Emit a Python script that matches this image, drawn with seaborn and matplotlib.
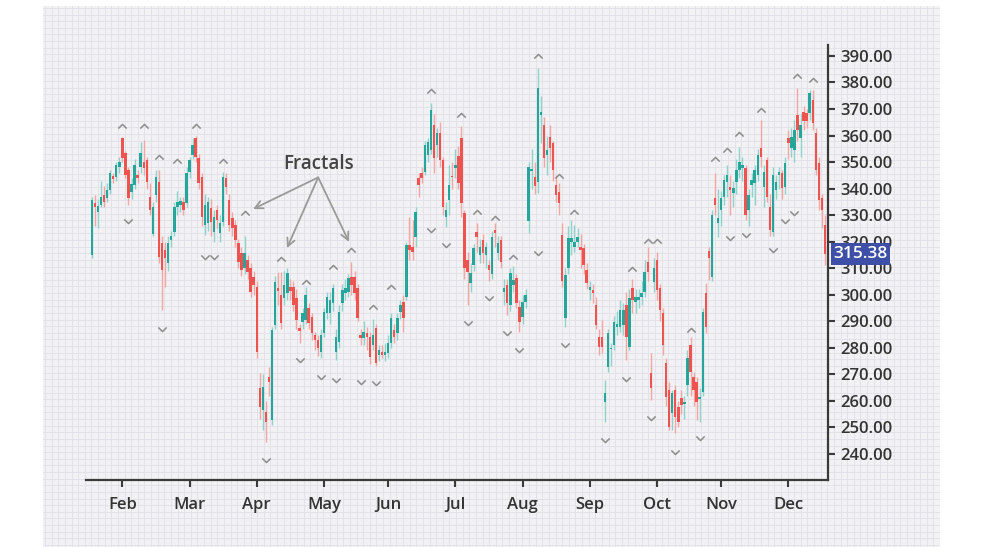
import numpy as np
import pandas as pd
import matplotlib
matplotlib.use("Agg")
import matplotlib.pyplot as plt
from matplotlib.path import Path
import seaborn as sns

# daily candles (one row per trading day)
opens = [315.0, 334.5, 331.0, 334.0, 337.6, 336.5, 339.5, 344.8, 344.4, 348.0,
         359.0, 353.4, 347.0, 338.7, 341.4, 345.0, 348.0, 350.0, 350.8, 337.0,
         323.0, 337.6, 342.5, 319.5, 317.0, 312.0, 320.5, 323.7, 333.0, 334.0,
         335.0, 334.6, 346.3, 352.7, 359.0, 351.6, 344.4, 326.3, 327.0, 332.7,
         323.7, 332.0, 323.3, 327.4, 344.0, 335.7, 329.0, 326.3, 319.5, 315.7,
         310.0, 313.0, 310.0, 306.7, 303.0, 264.9, 256.6, 255.8, 269.0, 252.8,
         288.6, 302.5, 300.0, 298.8, 300.7, 303.0, 303.0, 298.8, 287.5, 289.7,
         290.5, 295.0, 291.6, 284.8, 283.0, 278.4, 285.6, 293.1, 293.0, 296.8,
         278.6, 282.3, 296.8, 300.5, 301.2, 306.8, 306.8, 302.4, 284.8, 283.6,
         285.4, 284.2, 281.0, 287.3, 277.3, 278.6, 277.3, 277.9, 281.7, 286.7,
         285.4, 293.6, 297.4, 299.3, 318.8, 318.1, 321.9, 343.9, 345.8, 346.4,
         352.7, 354.6, 364.0, 356.4, 360.8, 350.8, 329.4, 335.7, 344.8, 347.7,
         352.1, 359.0, 330.7, 313.1, 304.3, 311.2, 323.8, 315.0, 320.6, 315.0,
         311.2, 308.0, 324.4, 315.6, 320.6, 301.2, 303.7, 296.1, 303.7, 306.2,
         295.5, 291.8, 297.4, 327.6, 346.6, 344.5, 342.6, 367.8, 364.0, 352.7,
         359.6, 357.1, 341.4, 338.9, 322.5, 291.1, 310.0, 320.0, 318.0, 320.0,
         318.1, 317.5, 309.3, 301.8, 301.8, 296.1, 284.2, 284.2, 259.7, 272.9,
         279.4, 281.1, 288.0, 288.0, 288.6, 296.1, 280.4, 302.4, 297.4, 298.0,
         299.3, 301.2, 312.5, 270.4, 304.9, 313.1, 302.4, 293.0, 274.2, 264.1,
         255.3, 264.1, 257.8, 261.0, 258.8, 266.0, 281.0, 269.1, 267.2, 260.6,
         263.5, 300.5, 316.3, 306.8, 336.3, 326.9, 332.0, 337.0, 342.6, 340.7,
         338.2, 342.6, 347.0, 347.7, 347.7, 332.0, 341.4, 342.0, 345.2, 355.2,
         340.7, 350.8, 333.2, 323.8, 339.5, 345.2, 345.8, 340.7, 359.0, 355.2,
         354.6, 367.8, 359.0, 369.0, 368.4, 368.4, 373.4, 360.9, 349.5, 336.3,
         326.3]
highs = [337.0, 337.5, 336.0, 343.0, 341.0, 342.0, 347.0, 346.0, 350.0, 352.0,
         359.5, 354.0, 348.0, 344.0, 351.0, 347.0, 357.6, 358.3, 352.0, 342.0,
         335.0, 347.0, 347.0, 322.0, 320.0, 322.0, 324.0, 335.0, 339.0, 337.0,
         337.0, 348.0, 352.0, 359.0, 360.0, 353.0, 346.0, 338.0, 337.0, 336.0,
         332.0, 334.0, 330.0, 346.3, 346.0, 338.0, 331.0, 328.0, 321.0, 318.0,
         322.0, 315.0, 312.0, 309.0, 305.0, 270.5, 270.0, 260.0, 272.8, 288.0,
         307.0, 308.6, 308.6, 309.0, 310.0, 306.0, 305.0, 302.0, 289.0, 295.0,
         303.0, 297.0, 293.0, 286.0, 285.0, 287.0, 295.0, 301.0, 301.0, 304.0,
         287.0, 296.0, 304.0, 306.0, 308.0, 312.5, 309.0, 304.0, 287.0, 290.0,
         288.0, 286.0, 291.0, 289.0, 281.0, 281.0, 282.0, 285.0, 293.0, 289.0,
         293.0, 298.0, 300.0, 320.0, 329.4, 328.0, 333.0, 346.0, 348.0, 358.0,
         359.0, 372.2, 368.0, 363.0, 365.0, 352.0, 335.0, 349.0, 350.0, 355.0,
         356.0, 363.4, 332.0, 316.0, 312.0, 319.0, 326.9, 321.0, 323.0, 320.0,
         313.0, 324.0, 327.0, 322.0, 322.0, 306.0, 306.0, 310.0, 311.0, 308.0,
         298.0, 300.0, 302.0, 350.0, 355.0, 350.0, 385.4, 375.0, 367.0, 360.0,
         364.0, 358.0, 345.0, 342.0, 327.0, 310.0, 326.0, 328.0, 326.3, 325.0,
         323.0, 319.0, 312.0, 305.0, 304.0, 299.0, 287.0, 290.5, 267.9, 287.0,
         282.0, 292.0, 294.0, 298.0, 297.0, 301.0, 302.0, 306.0, 302.0, 302.0,
         305.0, 313.1, 318.0, 277.9, 314.0, 316.2, 304.0, 295.0, 276.0, 267.2,
         264.0, 266.0, 260.0, 264.0, 262.0, 279.0, 284.0, 271.0, 269.0, 265.0,
         295.0, 304.3, 318.0, 332.0, 345.8, 340.0, 339.0, 345.0, 349.0, 345.0,
         343.0, 351.0, 355.8, 352.0, 349.0, 340.0, 346.0, 349.0, 355.0, 365.9,
         349.0, 352.0, 338.0, 348.0, 345.0, 348.0, 347.0, 352.0, 362.0, 363.0,
         366.0, 377.8, 368.0, 371.0, 370.0, 377.0, 377.0, 363.0, 352.0, 338.0,
         330.0]
lows = [314.0, 326.0, 325.0, 333.0, 333.0, 335.0, 338.0, 342.0, 343.0, 346.0,
        350.0, 344.0, 334.0, 336.0, 340.0, 342.0, 346.0, 345.0, 340.0, 330.0,
        322.0, 335.0, 312.0, 294.3, 303.0, 309.0, 318.0, 322.0, 330.0, 331.0,
        330.0, 333.0, 344.0, 351.0, 350.0, 340.0, 326.0, 322.5, 324.0, 322.0,
        320.0, 325.0, 320.0, 326.0, 338.0, 324.0, 322.0, 318.0, 310.0, 307.0,
        308.0, 306.0, 299.0, 300.0, 276.0, 253.0, 249.0, 244.5, 262.0, 251.0,
        287.0, 296.0, 287.0, 296.0, 298.0, 298.0, 294.0, 287.0, 282.0, 287.0,
        289.0, 287.0, 283.0, 279.0, 277.0, 276.0, 284.0, 291.0, 289.0, 294.0,
        275.4, 280.0, 294.0, 298.0, 299.0, 300.0, 298.0, 290.0, 281.0, 281.0,
        279.0, 274.0, 279.0, 273.0, 275.0, 276.0, 275.0, 276.0, 280.0, 282.0,
        283.0, 291.0, 286.0, 298.0, 313.0, 313.0, 318.0, 337.0, 342.0, 345.0,
        350.0, 353.0, 345.8, 352.0, 348.0, 330.0, 325.7, 330.0, 340.0, 344.0,
        340.0, 329.4, 306.0, 296.1, 301.0, 309.0, 316.0, 312.0, 312.0, 310.0,
        305.0, 306.0, 318.0, 313.0, 310.0, 296.0, 292.4, 294.0, 301.0, 295.0,
        286.1, 289.0, 295.0, 323.2, 340.0, 338.0, 338.2, 357.0, 348.0, 345.1,
        350.0, 343.0, 335.0, 330.0, 303.0, 288.0, 308.0, 315.0, 316.0, 318.0,
        310.0, 308.0, 302.0, 298.0, 297.0, 287.0, 277.3, 278.0, 252.2, 271.0,
        273.0, 279.0, 285.0, 286.0, 285.0, 275.4, 279.0, 293.0, 293.0, 295.0,
        296.0, 299.0, 305.0, 260.3, 301.0, 298.0, 290.0, 277.3, 258.0, 249.0,
        249.0, 247.8, 250.0, 255.0, 253.0, 262.0, 262.0, 258.0, 252.8, 252.0,
        262.0, 285.5, 305.6, 305.0, 330.0, 321.9, 326.0, 334.0, 337.0, 330.0,
        333.0, 338.0, 344.0, 343.0, 328.0, 326.0, 337.0, 334.0, 343.0, 348.0,
        333.0, 335.0, 322.0, 322.0, 336.0, 340.0, 336.0, 338.0, 351.0, 352.0,
        350.0, 358.0, 352.0, 362.0, 363.0, 366.0, 362.0, 345.0, 332.0, 325.0,
        311.2]
closes = [335.7, 333.0, 333.3, 337.0, 335.0, 339.5, 346.0, 343.6, 349.0, 350.0,
          351.6, 345.2, 336.5, 341.8, 349.0, 344.0, 353.4, 347.8, 342.5, 332.0,
          333.0, 344.4, 314.2, 309.3, 314.0, 319.5, 322.0, 333.0, 335.0, 335.5,
          332.0, 346.0, 350.8, 356.4, 352.0, 342.0, 329.3, 334.0, 335.0, 327.4,
          329.3, 328.2, 327.0, 344.4, 340.6, 326.3, 325.2, 320.6, 312.4, 309.3,
          315.7, 308.6, 301.0, 303.7, 278.4, 257.7, 265.3, 252.0, 267.0, 286.7,
          304.8, 301.5, 289.4, 303.7, 308.2, 301.5, 296.1, 290.5, 286.5, 293.0,
          300.0, 289.4, 285.6, 283.0, 280.0, 284.8, 293.5, 299.0, 298.0, 302.4,
          284.2, 293.6, 301.8, 302.4, 306.2, 303.7, 300.5, 291.1, 283.6, 286.0,
          284.2, 276.7, 284.8, 274.2, 279.2, 277.3, 278.6, 281.7, 291.1, 284.2,
          291.1, 296.1, 291.1, 318.8, 316.8, 316.2, 331.3, 341.4, 343.9, 356.4,
          357.7, 369.6, 351.4, 360.8, 350.8, 333.2, 332.0, 341.4, 344.2, 348.9,
          342.0, 334.5, 310.0, 308.7, 308.1, 317.5, 321.9, 318.1, 315.6, 318.1,
          309.3, 321.9, 323.2, 319.4, 312.5, 302.4, 296.8, 308.1, 305.6, 296.8,
          289.9, 297.4, 299.9, 348.3, 347.4, 340.8, 377.8, 369.0, 351.4, 354.6,
          355.2, 347.0, 337.6, 334.5, 305.0, 307.5, 321.5, 321.3, 320.0, 321.9,
          316.9, 311.2, 304.3, 302.8, 300.8, 288.6, 280.4, 280.4, 262.8, 285.5,
          280.0, 289.9, 289.0, 294.2, 294.2, 284.2, 298.6, 298.0, 299.0, 299.3,
          300.5, 308.7, 308.7, 264.7, 310.0, 301.8, 294.2, 281.1, 261.6, 250.3,
          262.8, 254.0, 252.2, 258.5, 259.7, 276.0, 271.0, 264.1, 259.7, 261.4,
          293.6, 288.0, 313.7, 330.1, 333.8, 328.8, 336.3, 343.3, 345.2, 339.5,
          340.1, 347.0, 350.2, 348.9, 330.1, 337.6, 343.3, 347.0, 352.7, 352.0,
          346.4, 337.0, 324.4, 345.2, 342.6, 346.4, 340.1, 349.5, 357.0, 359.6,
          362.1, 362.1, 364.0, 365.3, 365.3, 375.9, 364.6, 347.0, 335.7, 332.0,
          315.38]

# fractal markers (bar index, level)
frac_up_idx = [10, 17, 22, 28, 34, 43, 50, 62, 70, 79, 85, 92, 98, 111, 121, 126,
               132, 138, 146, 153, 158, 177, 182, 185, 196, 204, 208, 212, 219, 231, 236]
frac_up_val = [363.6, 363.6, 351.9, 350.4, 363.6, 350.4, 330.8, 313.4, 304.9, 310.6,
               316.9, 295.5, 303.0, 376.6, 367.8, 331.0, 329.0, 314.4, 389.8, 344.8,
               331.0, 309.7, 320.4, 320.4, 286.7, 351.0, 354.6, 360.6, 369.6, 382.5, 381.0]
frac_dn_idx = [12, 23, 37, 40, 57, 68, 75, 80, 88, 93, 111, 116, 123, 130, 136, 140,
               146, 155, 168, 175, 183, 191, 199, 209, 214, 223, 227, 230]
frac_dn_val = [327.8, 287.1, 314.1, 314.1, 237.7, 275.4, 269.1, 267.9, 267.2, 266.6,
               324.4, 318.6, 289.2, 298.6, 285.5, 279.2, 315.6, 281.0, 245.3, 268.3,
               253.4, 240.9, 245.9, 321.3, 322.5, 316.9, 327.8, 330.7]

month_pos = [10, 32, 54, 76, 97, 119, 141, 163, 185, 206, 228]
month_labels = ["Feb", "Mar", "Apr", "May", "Jun", "Jul", "Aug", "Sep", "Oct", "Nov", "Dec"]
price_ticks = [240, 250, 260, 270, 280, 290, 300, 310, 320, 330, 340, 350, 360, 370, 380, 390]

df = pd.DataFrame({"open": opens, "high": highs, "low": lows, "close": closes})
df["idx"] = np.arange(len(df))
df["up"] = df["close"] >= df["open"]

GREEN = "#26a69a"
RED = "#ef5350"

sns.set_theme(style="ticks")
plt.rcParams["font.family"] = ["Open Sans", "DejaVu Sans"]

fig = plt.figure(figsize=(9.84, 5.54), dpi=100)
fig.patch.set_facecolor("white")

# light grey panel with fine grid behind the chart
bg = fig.add_axes([43 / 984, 7 / 554, 897 / 984, 541 / 554])
bg.set_facecolor("#f2f2f5")
bg.set_xlim(0, 897)
bg.set_ylim(0, 541)
for gx in np.arange(2, 897, 6.63):
    bg.axvline(gx, color="#e2e2e8", lw=0.7, zorder=0)
for gy in np.arange(2, 541, 6.63):
    bg.axhline(gy, color="#e2e2e8", lw=0.7, zorder=0)
bg.set_xticks([])
bg.set_yticks([])
for s in bg.spines.values():
    s.set_visible(False)

ax = fig.add_axes([86 / 984, 74 / 554, 742 / 984, 435 / 554])
ax.set_facecolor("none")

# wicks
wick_cols = np.where(df["up"], "#8fd3ca", "#f5a5a3")
ax.vlines(df["idx"], df["low"], df["high"], colors=wick_cols, lw=1.0, zorder=2)

# bodies
body_lo = df[["open", "close"]].min(axis=1)
body_h = (df["close"] - df["open"]).abs().clip(lower=0.5)
body_cols = np.where(df["up"], GREEN, RED)
ax.bar(df["idx"], body_h, bottom=body_lo, width=0.8, color=body_cols, linewidth=0, zorder=3)

# fractal chevrons
chev_up = Path([(-1, -0.5), (0, 0.5), (1, -0.5)])
chev_dn = Path([(-1, 0.5), (0, -0.5), (1, 0.5)])
ax.plot(frac_up_idx, frac_up_val, ls="none", marker=chev_up, ms=6, mfc="none",
        mec="#8c8c8c", mew=1.1, zorder=4)
ax.plot(frac_dn_idx, frac_dn_val, ls="none", marker=chev_dn, ms=6, mfc="none",
        mec="#8c8c8c", mew=1.1, zorder=4)

# annotation
ax.text(74.1, 349.2, "Fractals", ha="center", va="center", fontsize=13.5,
        fontweight="semibold", color="#444444", zorder=5)
for tx, ty in [(52.8, 332.3), (63.9, 317.6), (84.2, 319.9)]:
    ax.annotate("", xy=(tx, ty), xytext=(74.1, 344.2),
                arrowprops=dict(arrowstyle="->", color="#9a9a9a", lw=1.3,
                                shrinkA=0, shrinkB=0, mutation_scale=14), zorder=5)

ax.set_xlim(-1.9, 241)
ax.set_ylim(230.2, 394.1)

ax.yaxis.tick_right()
ax.set_yticks(price_ticks)
ax.set_yticklabels([f"{v:.2f}" for v in price_ticks])
ax.set_xticks(month_pos)
ax.set_xticklabels(month_labels)
ax.tick_params(axis="both", direction="out", length=5, width=1.5, color="#3a3a3a",
               labelsize=12, labelcolor="#333333")
ax.tick_params(axis="x", pad=7)
ax.tick_params(axis="y", pad=4)
for lbl in ax.get_xticklabels() + ax.get_yticklabels():
    lbl.set_fontweight("semibold")

for side in ["left", "top"]:
    ax.spines[side].set_visible(False)
for side in ["bottom", "right"]:
    ax.spines[side].set_color("#3a3a3a")
    ax.spines[side].set_linewidth(1.6)

# last price tag
last = df["close"].iloc[-1]
ax.annotate(f"{last:.2f}", xy=(1.0, last), xycoords=("axes fraction", "data"),
            xytext=(4, 0), textcoords="offset points", ha="left", va="center",
            fontsize=12.5, fontweight="semibold", color="white", zorder=6,
            bbox=dict(boxstyle="square,pad=0.15", fc="#3d4fa6", ec="none"),
            annotation_clip=False)

fig.savefig("out.png", dpi=100)
